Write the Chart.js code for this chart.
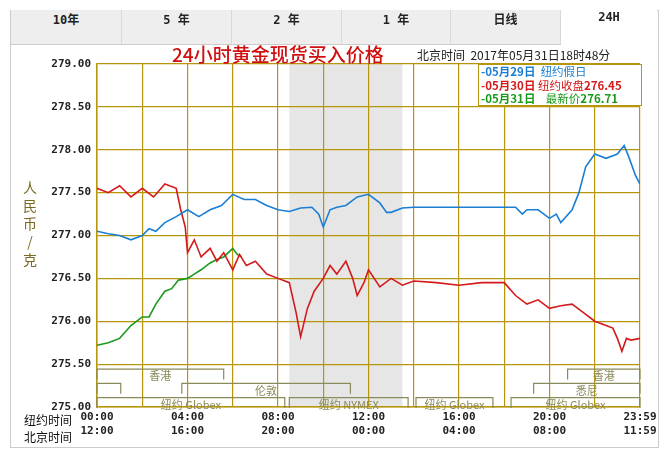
<!DOCTYPE html>
<html><head><meta charset="utf-8">
<script src="https://cdn.jsdelivr.net/npm/chart.js@4"></script>
<style>
body{margin:0;width:665px;height:450px;background:#fff;position:relative;overflow:hidden;font-family:"Noto Sans CJK SC",sans-serif}
#frame{position:absolute;left:10px;top:10px;width:647px;height:436px;border:1px solid #ccc}
.tab{position:absolute;top:10px;height:34px;line-height:34px;text-align:center;font:bold 12px "DejaVu Sans Mono","Noto Sans CJK SC";background:#eeeeee;border-right:1px solid #d8d8d8;border-bottom:1px solid #ccc;color:#222}
#c{position:absolute;left:0;top:0}
.t{position:absolute;white-space:nowrap}
</style></head><body>
<div id="frame"></div>
<canvas id="c" width="665" height="450"></canvas>
<div class="tab" style="left:11px;width:110px">10年</div>
<div class="tab" style="left:122px;width:109px">5 年</div>
<div class="tab" style="left:232px;width:109px">2 年</div>
<div class="tab" style="left:342px;width:108px">1 年</div>
<div class="tab" style="left:451px;width:109px">日线</div>
<div class="tab" style="left:561px;width:96px;background:#fff;border:none">24H</div>
<div class="t" style="left:172px;top:40px;color:#d01010;font:19px 'Noto Sans CJK SC';font-weight:500">24小时黄金现货买入价格</div>
<div class="t" style="left:417px;top:46px;color:#222;font:12px 'Noto Sans CJK SC'">北京时间&nbsp;&nbsp;2017年05月31日18时48分</div>
<div class="t" style="left:478px;top:64px;width:160px;height:40px;border:1px solid #b8960c;background:#fff;font:bold 11.5px 'Noto Sans CJK SC';line-height:13.5px;padding-left:2px">
<div style="color:#1a7fd4">-05月29日&nbsp;&nbsp;<span style="font-weight:normal">纽约假日</span></div>
<div style="color:#d41a1a">-05月30日&nbsp;<span style="font-weight:normal">纽约收盘</span>276.45</div>
<div style="color:#1a9a1a">-05月31日&nbsp;&nbsp;&nbsp;&nbsp;<span style="font-weight:normal">最新价</span>276.71</div>
</div>
<div class="t" style="left:22px;top:178px;width:16px;color:#7a6a20;font:14px 'Noto Sans CJK SC';line-height:18px;text-align:center">人<br>民<br>币<br>/<br>克</div>
<div class="t" style="left:24px;top:411px;font:12px 'Noto Sans CJK SC';color:#111">纽约时间</div>
<div class="t" style="left:24px;top:428px;font:12px 'Noto Sans CJK SC';color:#111">北京时间</div>
<script>
const yTicks=[275,275.5,276,276.5,277,277.5,278,278.5,279];
const nyLabels=['00:00','04:00','08:00','12:00','16:00','20:00','23:59'];
const bjLabels=['12:00','16:00','20:00','00:00','04:00','08:00','11:59'];
const blueH=[0,0.5,1,1.5,2,2.3,2.6,3,3.5,4,4.5,5,5.5,6,6.5,7,7.5,8,8.5,9,9.5,9.8,10,10.3,10.6,11,11.5,12,12.5,12.8,13,13.5,14,18.5,18.8,19,19.5,20,20.3,20.5,21,21.3,21.6,22,22.5,23,23.3,23.5,23.8,24];
const blueV=[277.05,277.02,277.0,276.95,277.0,277.08,277.05,277.15,277.22,277.3,277.22,277.3,277.35,277.48,277.42,277.42,277.35,277.3,277.28,277.32,277.33,277.25,277.1,277.3,277.33,277.35,277.45,277.48,277.38,277.27,277.27,277.32,277.33,277.33,277.25,277.3,277.3,277.2,277.25,277.15,277.3,277.5,277.8,277.95,277.9,277.95,278.05,277.92,277.7,277.6];
const redH=[0,0.5,1,1.5,2,2.5,3,3.5,3.7,3.9,4,4.3,4.6,5,5.3,5.6,6,6.3,6.6,7,7.5,8,8.5,8.8,9,9.3,9.6,10,10.3,10.6,11,11.3,11.5,11.8,12,12.5,13,13.5,14,15,16,17,18,18.5,19,19.5,20,20.5,21,21.5,22,22.5,22.8,23,23.2,23.4,23.6,24];
const redV=[277.55,277.5,277.58,277.45,277.55,277.45,277.6,277.55,277.3,277.1,276.8,276.95,276.75,276.85,276.7,276.8,276.6,276.78,276.65,276.7,276.55,276.5,276.45,276.1,275.82,276.15,276.35,276.5,276.65,276.55,276.7,276.5,276.3,276.45,276.6,276.4,276.5,276.42,276.47,276.45,276.42,276.45,276.45,276.3,276.2,276.25,276.15,276.18,276.2,276.1,276.0,275.95,275.92,275.8,275.65,275.8,275.78,275.8];
const greenH=[0,0.5,1,1.5,2,2.3,2.6,3,3.3,3.6,4,4.3,4.6,5,5.3,5.6,6,6.2,6.4];
const greenV=[275.72,275.75,275.8,275.95,276.05,276.05,276.2,276.35,276.38,276.48,276.5,276.55,276.6,276.68,276.72,276.75,276.85,276.78,276.75];
const sessions=[ // [startH,endH,row,label]
 [0,5.6,0,'香港'],[20.8,24,0,'香港'],[3.75,11.2,1,'伦敦'],[0,1.05,1,''],[19.3,24,1,'悉尼'],
 [0,8.3,2,'纽约 Globex'],[8.5,13.75,2,'纽约 NYMEX'],[14.1,17.5,2,'纽约 Globex'],[18.3,24,2,'纽约 Globex']];
const pts=(h,v)=>h.map((x,i)=>({x:x*60,y:v[i]}));
const gold='#b8960c';
const bg={id:'bg',beforeDraw(c){const {ctx,chartArea:a,scales:{x}}=c;ctx.save();ctx.fillStyle='#e6e6e6';
 const x0=x.getPixelForValue(510),x1=x.getPixelForValue(810);ctx.fillRect(x0,a.top,x1-x0,a.bottom-a.top);ctx.restore();},
 afterDatasetsDraw(c){const {ctx,scales:{x,y}}=c;ctx.save();const yt=y.getPixelForValue(275.5),yb=y.getPixelForValue(275);
 const rh=(yb-yt)/3;ctx.strokeStyle='#8a8a5a';ctx.lineWidth=1.2;ctx.font='11px "Noto Sans CJK SC"';ctx.fillStyle='#8a8a5a';ctx.textAlign='center';
 sessions.forEach(s=>{const a=x.getPixelForValue(s[0]*60),b=x.getPixelForValue(s[1]*60);const top=yt+3+s[2]*rh;
  ctx.beginPath();ctx.moveTo(a,top+rh-2);ctx.lineTo(a,top+2);ctx.lineTo(b,top+2);ctx.lineTo(b,top+rh-2);ctx.stroke();
  if(s[3])ctx.fillText(s[3],(a+b)/2,top+rh-1);});
 ctx.restore();}};
new Chart(document.getElementById('c'),{type:'scatter',
 data:{datasets:[
  {data:pts(blueH,blueV),borderColor:'#1a7fd4',showLine:true,pointRadius:0,borderWidth:1.6},
  {data:pts(redH,redV),borderColor:'#d41a1a',showLine:true,pointRadius:0,borderWidth:1.6},
  {data:pts(greenH,greenV),borderColor:'#1a9a1a',showLine:true,pointRadius:0,borderWidth:1.6}]},
 options:{animation:false,responsive:false,events:[],
  layout:{padding:{left:0,right:25,top:64,bottom:0}},
  plugins:{legend:{display:false},tooltip:{enabled:false}},
  scales:{
   x:{type:'linear',min:0,max:1440,border:{color:gold,width:1.5},
    afterBuildTicks(s){s.ticks=[];for(let v=0;v<=1440;v+=120)s.ticks.push({value:v});},
    afterFit(s){s.height=43;},
    grid:{color:gold,lineWidth:1.2,drawTicks:false},
    ticks:{maxRotation:0,autoSkip:false,padding:4,color:'#222',font:{family:'DejaVu Sans Mono',weight:'bold',size:11},
     callback(v){if(v%240)return '';const i=v/240;return [nyLabels[i],bjLabels[i]];}}},
   y:{min:275,max:279,border:{color:gold,width:1.5},
    afterBuildTicks(s){s.ticks=yTicks.map(v=>({value:v}));},
    afterFit(s){s.width=97;},
    grid:{color:gold,lineWidth:1.2,drawTicks:false},
    ticks:{padding:6,color:'#222',font:{family:'DejaVu Sans Mono',weight:'bold',size:11},callback:v=>v.toFixed(2)}}}},
 plugins:[bg]});
</script></body></html>
